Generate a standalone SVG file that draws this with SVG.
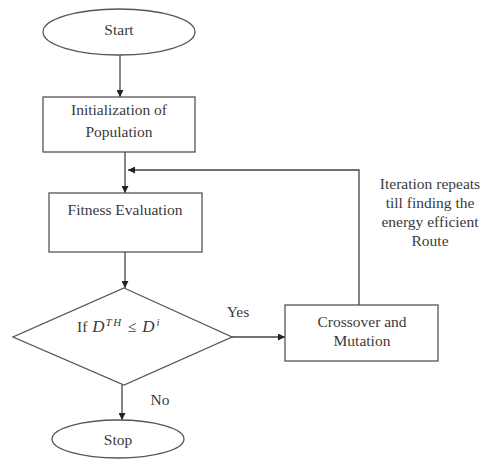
<svg xmlns="http://www.w3.org/2000/svg" width="488" height="460" viewBox="0 0 488 460">
<style>
.s{fill:#fff;stroke:#555;stroke-width:1.3}
.t{font-family:'Liberation Serif','DejaVu Serif',serif;font-size:15.5px;fill:#3a3a3a;text-anchor:middle}
.m{font-style:italic;font-size:17px}
.p{font-style:italic;font-size:11px;letter-spacing:1.5px}
.c{fill:none;stroke:#444;stroke-width:1.3}
</style>
<defs>
<marker id="a" viewBox="0 0 10 10" refX="10" refY="5" markerWidth="7" markerHeight="7" markerUnits="userSpaceOnUse" orient="auto">
<path d="M0,0 L10,5 L0,10 z" fill="#222"/>
</marker>
</defs>
<g id="connectors">
<path class="c" d="M120,55 V97" marker-end="url(#a)"/>
<path class="c" d="M125,152 V193" marker-end="url(#a)"/>
<path class="c" d="M125,252 V288" marker-end="url(#a)"/>
<path class="c" d="M122,385 V420" marker-end="url(#a)"/>
<path class="c" d="M232,337 H285" marker-end="url(#a)"/>
<path class="c" d="M359,305 V170 H128" marker-end="url(#a)"/>
<text class="t" x="238" y="317">Yes</text>
<text class="t" x="160" y="405">No</text>
</g>
<g id="start">
<ellipse class="s" cx="119" cy="32" rx="76" ry="23"/>
<text class="t" x="119" y="35">Start</text>
</g>
<g id="init">
<rect class="s" x="43" y="97" width="152" height="55"/>
<text class="t" x="119" y="115">Initialization of</text>
<text class="t" x="119" y="137">Population</text>
</g>
<g id="fitness">
<rect class="s" x="49" y="193" width="153" height="59"/>
<text class="t" x="125" y="215">Fitness Evaluation</text>
</g>
<g id="decision">
<polygon class="s" points="124,288 232,337 124,385 13,337"/>
<text class="t" x="77" y="332" style="text-anchor:start">If<tspan class="m" dx="5">D</tspan><tspan class="p" dx="1" dy="-6">TH</tspan><tspan dx="5" dy="6">≤</tspan><tspan class="m" dx="6">D</tspan><tspan class="p" dx="2" dy="-6">i</tspan></text>
</g>
<g id="crossover">
<rect class="s" x="285" y="305" width="153" height="56"/>
<text class="t" x="362" y="327">Crossover and</text>
<text class="t" x="362" y="346">Mutation</text>
</g>
<g id="stop">
<ellipse class="s" cx="118" cy="439" rx="66" ry="19"/>
<text class="t" x="118" y="445">Stop</text>
</g>
<g id="note">
<text class="t" x="430" y="189">Iteration repeats</text>
<text class="t" x="430" y="208">till finding the</text>
<text class="t" x="430" y="227">energy efficient</text>
<text class="t" x="430" y="246">Route</text>
</g>
</svg>
